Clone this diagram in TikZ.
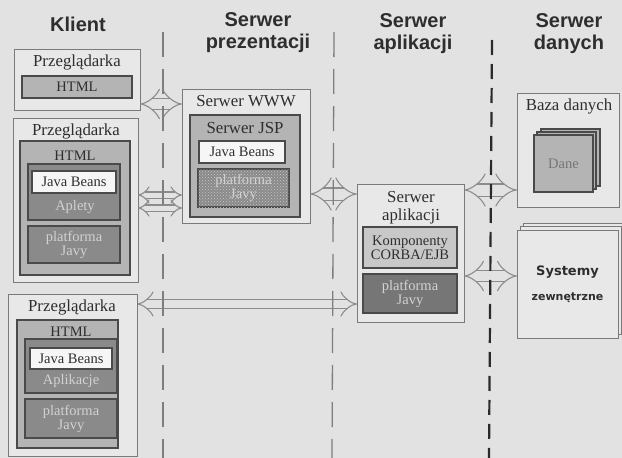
\documentclass[tikz,border=0pt]{standalone}
\usepackage{fontspec}
\setmainfont{Liberation Serif}
\setsansfont{Liberation Sans}
\newfontfamily\dvsans{DejaVu Sans}
\usetikzlibrary{arrows.meta,patterns}
\definecolor{bgc}{HTML}{E2E2E2}
\definecolor{boxc}{HTML}{E8E8E8}
\definecolor{edgec}{HTML}{7A7A7A}
\definecolor{dkc}{HTML}{4A4A4A}
\definecolor{midc}{HTML}{B4B4B4}
\definecolor{darkc}{HTML}{8A8A8A}
\definecolor{darkerc}{HTML}{767676}
\definecolor{litc}{HTML}{C8C8C8}
\definecolor{whc}{HTML}{F6F6F6}
\definecolor{txtc}{HTML}{2E2E2E}
\definecolor{ltxt}{HTML}{D2D2D2}
\definecolor{arrc}{HTML}{8C8C8C}
\definecolor{sepc}{HTML}{7E7E7E}
\definecolor{sepdk}{HTML}{2A2A2A}
\newcommand{\lblfont}{\fontsize{14.5}{16}\selectfont}
\newcommand{\ttlfont}{\fontsize{16.8}{18}\selectfont}
\newcommand{\hdrfont}{\sffamily\bfseries\fontsize{20}{22}\selectfont}
\begin{document}
\begin{tikzpicture}[x=1pt,y=-1pt,
  wh/.style 2 args={minimum width=#1pt, minimum height=#2pt},
  outerbox/.style={draw=edgec, fill=boxc, line width=1pt, inner sep=0pt, outer sep=0pt, anchor=north west},
  htmlbox/.style={outerbox, draw=dkc, fill=midc, line width=1.4pt, text=txtc, font=\lblfont},
  darkbox/.style={outerbox, draw=dkc, fill=darkc, line width=1.6pt, text=ltxt, align=center, font=\lblfont},
  whitebox/.style={outerbox, draw=dkc, fill=whc, line width=1.1pt, text=txtc, font=\lblfont},
  litebox/.style={outerbox, draw=dkc, fill=litc, line width=1.4pt, text=txtc, align=center, font={\fontsize{14.5}{14}\selectfont}},
  ttl/.style={font=\ttlfont, text=txtc, inner sep=0pt, align=center},
  lbl/.style={font=\lblfont, text=txtc, inner sep=0pt},
  ltlbl/.style={font=\lblfont, text=ltxt, inner sep=0pt},
  hdr/.style={font=\hdrfont, text=txtc, align=center, inner sep=0pt, anchor=north},
  dblarr/.style={draw=arrc, line width=1.1pt, double=bgc, double distance=#1, {Implies}-{Implies}},
  dblarr/.default=8pt,
  sepline/.style={draw=sepc, line width=1.3pt, dash pattern=on 25pt off 12pt},
  septhick/.style={draw=sepdk, line width=2.2pt, dash pattern=on 15pt off 9pt}
]
\fill[bgc] (0,0) rectangle (622,458);
\useasboundingbox (0,0) rectangle (622,458);

% headers
\node[hdr] (hk) at (78,17) {Klient};
\node[hdr] (hp) at (258,12) {Serwer\\prezentacji};
\node[hdr] (ha) at (413,13) {Serwer\\aplikacji};
\node[hdr] (hd) at (569,13) {Serwer\\danych};

% Przegladarka 1
\node[outerbox, wh={126}{61}] (p1) at (14,49) {};
\node[ttl] (p1t) at (77,62) {Przeglądarka};
\node[htmlbox, wh={110}{22}] (p1h) at (22,76) {HTML};

% Przegladarka 2
\node[outerbox, wh={125}{164}] (p2) at (13,118) {};
\node[ttl] (p2t) at (76,131) {Przeglądarka};
\node[htmlbox, wh={110}{134}] (p2h) at (20,141) {};
\node[lbl] (p2hl) at (75,156) {HTML};
\node[darkbox, wh={92}{56}] (p2i) at (28,164) {};
\node[whitebox, wh={84}{22}] (p2j) at (32,171) {Java Beans};
\node[ltlbl] (p2a) at (75,207) {Aplety};
\node[darkbox, wh={92}{37}] (p2p) at (28,226) {platforma\\[-2pt]Javy};

% Przegladarka 3
\node[outerbox, wh={129}{162}] (p3) at (8,294) {};
\node[ttl] (p3t) at (72,307) {Przeglądarka};
\node[htmlbox, wh={101}{128}] (p3h) at (17,320) {};
\node[lbl] (p3hl) at (71,332) {HTML};
\node[darkbox, wh={92}{54}] (p3i) at (25,339) {};
\node[whitebox, wh={82}{21}] (p3j) at (30,348) {Java Beans};
\node[ltlbl] (p3a) at (71,381) {Aplikacje};
\node[darkbox, wh={92}{39}] (p3p) at (25,399) {platforma\\[-2pt]Javy};

% Serwer WWW
\node[outerbox, wh={128}{134}] (www) at (182,89) {};
\node[ttl] (wwwt) at (246,101) {Serwer WWW};
\node[htmlbox, wh={110}{102}] (jsp) at (190,115) {};
\node[ttl] (jspt) at (245,128) {Serwer JSP};
\node[whitebox, wh={86}{22}] (wj) at (199,141) {Java Beans};
\node[darkbox, wh={91}{38}, postaction={pattern=crosshatch dots, pattern color=litc}] (wp) at (198,169) {platforma\\[-2pt]Javy};

% Serwer aplikacji
\node[outerbox, wh={107}{138}] (app) at (357,184) {};
\node[ttl, anchor=north] (appt) at (411,191) {Serwer\\aplikacji};
\node[litebox, wh={94}{41}] (ak) at (363,227) {Komponenty\\CORBA/EJB};
\node[darkbox, fill=darkerc, wh={94}{39}] (ap) at (363,274) {platforma\\[-2pt]Javy};

% Baza danych
\node[outerbox, wh={102}{114}] (db) at (517,93) {};
\node[ttl] (dbt) at (569,106) {Baza danych};
\node[htmlbox, line width=1.1pt, wh={59}{57}] (dane2) at (541,129) {};
\node[htmlbox, line width=1.1pt, wh={59}{57}] (dane1) at (537,132) {};
\node[htmlbox, line width=1.3pt, wh={59}{57}, text=darkerc] (dane) at (534,135) {Dane};

% Systemy zewnetrzne
\node[outerbox, wh={101}{108}] (sys2) at (523,223) {};
\node[outerbox, wh={101}{108}] (sys1) at (520,226) {};
\node[outerbox, wh={101}{108}, font={\dvsans\bfseries\fontsize{11}{25}\selectfont}, text=txtc, align=center] (sys) at (517,230) {{\fontsize{13}{25}\selectfont Systemy}\\zewnętrzne};

% arrows
\draw[dblarr=10pt] (p1.east |- 0,104) -- (www.west |- 0,104);
\draw[dblarr=5pt] (p2.east |- 0,195) -- (www.west |- 0,195);
\draw[dblarr=5pt] (p2.east |- 0,208) -- (www.west |- 0,208);
\draw[dblarr=11pt] (www.east |- 0,194) -- (app.west |- 0,194);
\draw[dblarr=11pt] (app.east |- 0,190) -- (db.west |- 0,190);
\draw[dblarr=10pt] (app.east |- 0,276) -- (sys.west |- 0,276);
\draw[dblarr=8pt] (p3.east |- 0,304) -- (app.west |- 0,304);

% separators
\coordinate (s1a) at (163,32); \coordinate (s1b) at (163,458);
\coordinate (s2a) at (334,32); \coordinate (s2b) at (332,458);
\coordinate (s3a) at (492,40); \coordinate (s3b) at (489,458);
\draw[sepline] (s1a) -- (s1b);
\draw[sepline] (s2a) -- (s2b);
\draw[septhick] (s3a) -- (s3b);
\end{tikzpicture}
\end{document}
